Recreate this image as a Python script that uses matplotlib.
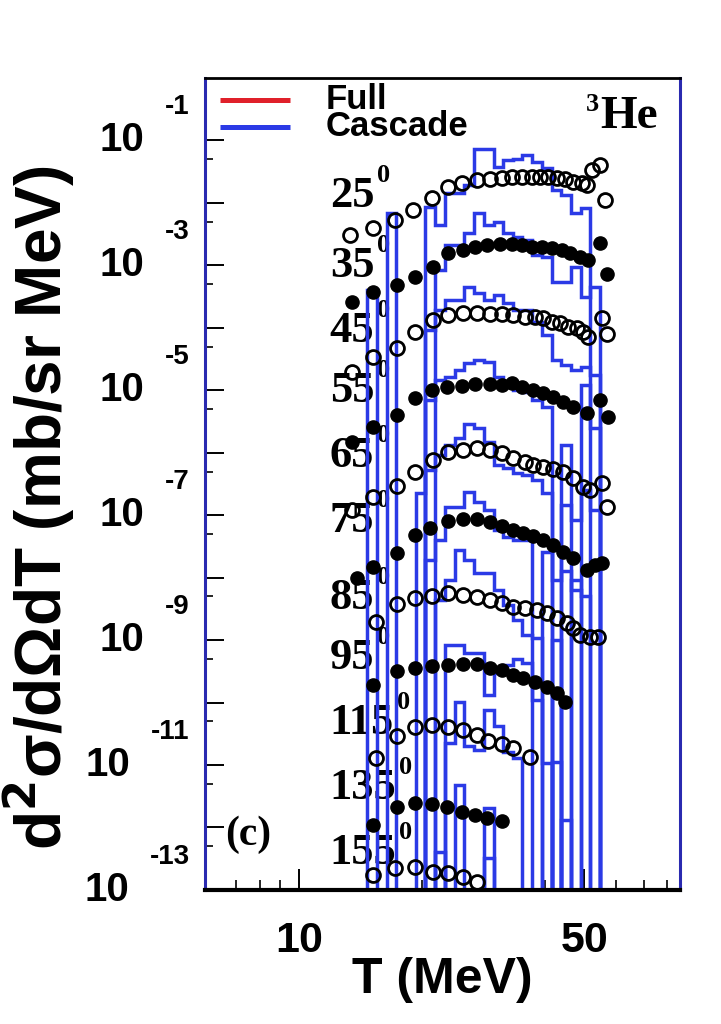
import numpy as np
import matplotlib.pyplot as plt
from matplotlib.ticker import NullFormatter

# cascade histogram bin edges, T in MeV
edges = [14.7, 15.5, 16.4, 17.3, 18.3, 19.3, 20.4, 21.6, 22.8, 24.1, 25.4, 26.9,
         28.4, 30.0, 31.6, 33.4, 35.3, 37.3, 39.4, 41.6, 43.9, 46.4, 49.0, 51.7, 54.6]

angles = ['25', '35', '45', '55', '65', '75', '85', '95', '115', '135', '155']

# data points: T (MeV) and log10 of the (scaled) cross section
t25 = [13.3, 15.2, 17.2, 19.0, 21.2, 23.2, 25.1, 27.3, 29.4, 31.5, 33.3, 35.2, 37.2, 39.0,
       40.8, 42.9, 44.9, 47.0, 49.4, 50.8, 52.3, 54.7, 56.2]
y25 = [-2.52, -2.41, -2.28, -2.12, -1.93, -1.75, -1.69, -1.64, -1.62, -1.61, -1.59, -1.59,
       -1.59, -1.59, -1.59, -1.61, -1.62, -1.66, -1.69, -1.72, -1.48, -1.40, -1.96]
t35 = [13.5, 15.2, 17.4, 19.2, 21.3, 23.2, 25.2, 27.0, 28.9, 31.1, 33.3, 35.2, 37.3, 39.4,
       41.7, 44.1, 46.2, 48.8, 51.1, 54.7, 56.9]
y35 = [-3.59, -3.43, -3.32, -3.19, -3.03, -2.81, -2.76, -2.71, -2.68, -2.66, -2.66, -2.68,
       -2.70, -2.71, -2.73, -2.76, -2.81, -2.87, -2.92, -2.65, -3.14]
t45 = [13.5, 15.2, 17.4, 19.2, 21.3, 23.2, 25.2, 27.3, 29.4, 31.5, 33.5, 35.8, 37.9, 39.6,
       41.7, 43.6, 45.6, 48.0, 49.7, 51.1, 55.3, 56.9]
y45 = [-4.70, -4.47, -4.33, -4.06, -3.88, -3.80, -3.77, -3.77, -3.78, -3.78, -3.80, -3.82,
       -3.83, -3.85, -3.90, -3.93, -3.98, -4.01, -4.07, -4.14, -3.85, -4.10]
t55 = [13.5, 15.2, 17.4, 19.2, 21.2, 23.1, 25.1, 27.0, 29.4, 31.5, 33.3, 35.2, 37.5, 39.6,
       41.9, 44.4, 46.9, 50.8, 54.7, 57.2]
y55 = [-5.83, -5.59, -5.40, -5.13, -5.00, -4.95, -4.94, -4.90, -4.90, -4.92, -4.89, -4.95,
       -5.00, -5.05, -5.11, -5.19, -5.27, -5.37, -5.16, -5.43]
t65 = [13.5, 15.2, 17.4, 19.2, 21.3, 23.2, 25.2, 27.3, 29.4, 31.5, 33.5, 35.8, 37.5, 39.6,
       41.9, 44.4, 46.9, 49.7, 51.7, 55.3, 56.9]
y65 = [-6.92, -6.71, -6.54, -6.31, -6.12, -5.99, -5.96, -5.93, -5.96, -6.01, -6.09, -6.15,
       -6.20, -6.23, -6.26, -6.31, -6.41, -6.55, -6.60, -6.49, -6.87]
t75 = [13.9, 15.2, 17.4, 19.2, 21.0, 23.2, 25.2, 27.3, 29.4, 31.5, 33.5, 35.4, 37.5, 39.6,
       41.9, 44.4, 46.9, 50.8, 53.2, 55.3]
y75 = [-8.01, -7.83, -7.61, -7.32, -7.21, -7.10, -7.06, -7.06, -7.11, -7.18, -7.24, -7.29,
       -7.34, -7.40, -7.48, -7.59, -7.69, -7.88, -7.80, -7.77]
t85 = [15.4, 17.4, 19.2, 21.2, 23.2, 25.2, 27.3, 29.4, 31.5, 33.5, 35.8, 38.3, 40.5, 42.9,
       45.4, 46.9, 48.8, 51.7, 54.1]
y85 = [-8.71, -8.42, -8.33, -8.30, -8.25, -8.28, -8.31, -8.36, -8.41, -8.47, -8.49, -8.52,
       -8.57, -8.65, -8.73, -8.81, -8.92, -8.95, -8.95]
t95 = [15.2, 17.4, 19.2, 21.2, 23.2, 25.2, 27.3, 29.4, 31.5, 33.5, 35.4, 37.9, 40.5, 42.9, 44.9]
y95 = [-9.72, -9.50, -9.45, -9.42, -9.40, -9.38, -9.38, -9.45, -9.48, -9.56, -9.61, -9.67,
       -9.75, -9.85, -9.99]
t115 = [15.4, 17.4, 19.2, 21.2, 23.2, 25.2, 27.3, 29.1, 31.5, 33.5, 36.8]
y115 = [-10.89, -10.54, -10.39, -10.36, -10.39, -10.44, -10.52, -10.62, -10.66, -10.73, -10.87]
t135 = [15.2, 17.4, 19.2, 21.2, 23.1, 25.1, 27.0, 28.9, 31.5]
y135 = [-11.96, -11.67, -11.61, -11.62, -11.67, -11.75, -11.80, -11.85, -11.90]
t155 = [15.2, 17.2, 19.2, 21.3, 23.2, 25.2, 27.3]
y155 = [-12.76, -12.65, -12.63, -12.71, -12.73, -12.79, -12.87]

# cascade histograms, log10 per bin (None = empty bin)
h25 = [None, None, -2.17, None, None, None, -2.07, -2.36, -1.85, -1.85, -1.72, -1.13,
       -1.13, -1.43, -1.32, -1.29, -1.24, -1.35, -1.45, -1.80, -1.88, -2.17, -2.09, None]
h35 = [None, None, None, None, None, None, None, -3.08, -2.68, -2.68, -2.49, -2.17,
       -2.36, -2.31, -2.49, -2.55, -2.60, -2.84, -2.87, -3.27, -3.27, -3.03, -3.51, -3.35]
h45 = [-3.40, None, None, None, None, None, -4.04, -3.72, -3.56, -3.56, -3.35, -3.45,
       -3.56, -3.48, -3.61, -3.72, -3.72, -3.91, -4.12, -4.52, -4.60, -4.68, -4.63, -4.76]
h55 = [None, None, None, None, None, None, -5.16, -4.84, -4.79, -4.68, -4.57, -4.52,
       -4.55, -4.79, -4.92, -5.00, -5.03, -5.16, -5.27, None, -5.88, None, -4.92, -5.60]
h65 = [None, None, None, None, None, -6.65, -6.28, -6.04, -5.88, -5.77, -5.54, -5.61,
       -5.83, -6.20, -6.25, -6.33, -6.36, -6.44, -6.65, None, -6.84, -7.08, -6.60, -6.92]
h75 = [None, None, None, None, None, None, -7.72, -7.40, -6.87, -6.87, -6.63, -6.79,
       -6.92, -7.24, -7.35, -7.40, -7.40, None, -7.59, -8.04, -7.90, -8.20, -8.30, None]
h85 = [None, None, None, None, None, None, None, -8.36, -8.04, -7.56, -7.72, -7.93,
       -7.93, -8.20, -8.44, -8.68, -8.92, -8.97, None, -9.00, None, -8.04, None, None]
h95 = [None, None, None, None, None, None, None, None, -9.08, -9.08, -9.21, -9.21,
       -9.88, -9.53, -9.40, -9.30, -9.37, -9.96, -10.97, None, None, None, None, None]
h115 = [None, None, None, None, None, None, None, None, -10.65, -9.99, -10.70, -10.76,
        -10.12, -10.38, -10.79, -10.89, None, None, None, -10.95, None, None, None, None]
h135 = [None, None, None, None, None, None, None, None, None, -11.32, None, None,
        -11.69, None, None, None, None, None, None, None, -11.88, None, None, None]
h155 = [None, None, None, None, None, None, None, -12.39, None, None, None, None,
        -12.49, None, None, None, None, None, None, None, None, None, None, None]

# where the angle tags sit (log10 of baseline)
tag_lg = [-2.07, -3.19, -4.23, -5.19, -6.23, -7.27, -8.50, -9.46, -10.50, -11.54, -12.58]

T = [t25, t35, t45, t55, t65, t75, t85, t95, t115, t135, t155]
Y = [y25, y35, y45, y55, y65, y75, y85, y95, y115, y135, y155]
H = [h25, h35, h45, h55, h65, h75, h85, h95, h115, h135, h155]

blue = '#2b3ae6'
red = '#e0202a'
sans = 'Liberation Sans'
serif = 'Liberation Serif'

fig = plt.figure(figsize=(7.21, 10.24), dpi=100)
ax = fig.add_axes([0.2843, 0.1309, 0.6588, 0.7930])
ax.set_xscale('log')
ax.set_yscale('log')

floor = 1e-30
for i in range(len(angles)):
    hv = np.array([floor if v is None else 10.0 ** v for v in H[i]])
    ax.stairs(hv, edges, baseline=floor, color=blue, lw=2.5, zorder=2)
    yv = 10.0 ** np.array(Y[i])
    if i % 2 == 1:
        ax.plot(T[i], yv, 'o', color='black', ms=9.5, zorder=3)
    else:
        ax.plot(T[i], yv, 'o', mfc='none', mec='black', mew=2.0, ms=10, zorder=3)
    tx = ax.text(11.9, 10.0 ** tag_lg[i], angles[i], family=serif, fontweight='bold',
                 fontsize=32, va='baseline', ha='left', zorder=1)
    ax.annotate('0', xy=(1, 1), xycoords=tx, xytext=(2, -8), textcoords='offset points',
                family=serif, fontweight='bold', fontsize=19, va='bottom', ha='left', zorder=1)

ax.set_xlim(5.88, 85.9)
ax.set_ylim(1e-13, 1.0)

# axes frame, ROOT like
for s in ['left', 'right']:
    ax.spines[s].set_color('#2a2ab0')
    ax.spines[s].set_linewidth(2.2)
ax.spines['top'].set_linewidth(2.0)
ax.spines['bottom'].set_linewidth(3.0)

ax.set_yticks([10.0 ** k for k in range(-13, 0)])
ax.set_yticks([5 * 10.0 ** k for k in range(-13, -1)], minor=True)
ax.yaxis.set_minor_formatter(NullFormatter())
ax.tick_params(axis='y', which='major', direction='in', length=14, width=1.4, labelleft=False)
ax.tick_params(axis='y', which='minor', direction='in', length=6, width=1.2)

ax.set_xticks([10, 50])
ax.set_xticklabels(['10', '50'])
ax.set_xticks([7, 8, 9, 20, 30, 40, 60, 70, 80], minor=True)
ax.xaxis.set_minor_formatter(NullFormatter())
ax.tick_params(axis='x', which='major', direction='in', length=15, width=1.4, pad=22,
               labelsize=31)
ax.tick_params(axis='x', which='minor', direction='in', length=7, width=1.2)
for lab in ax.get_xticklabels():
    lab.set_fontweight('bold')
    lab.set_family(sans)

# y tick labels as 10 with raised exponent
for k in range(-1, -14, -2):
    ex = ax.annotate(str(k), xy=(-0.032, 10.0 ** k), xycoords=ax.get_yaxis_transform(),
                     xytext=(0, 24), textcoords='offset points', ha='right', va='center',
                     fontsize=20, fontweight='bold', family=sans, annotation_clip=False)
    ax.annotate('10', xy=(0, 0.5), xycoords=ex, xytext=(-15, -24), textcoords='offset points',
                ha='right', va='center', fontsize=29, fontweight='bold', family=sans,
                annotation_clip=False)

ax.set_xlabel('T (MeV)', fontsize=36, fontweight='bold', family=sans)
ax.xaxis.set_label_coords(0.5, -0.082)
ax.set_ylabel('d$^{\\mathbf{2}}$σ/dΩdT (mb/sr MeV)', fontsize=46, fontweight='bold', family=sans)
ax.yaxis.set_label_coords(-0.27, 0.47)

# legend
ax.plot([0.032, 0.179], [0.973, 0.973], transform=ax.transAxes, color=red, lw=3.6,
        solid_capstyle='butt')
ax.plot([0.032, 0.179], [0.940, 0.940], transform=ax.transAxes, color=blue, lw=3.6,
        solid_capstyle='butt')
ax.text(0.253, 0.9565, 'Full\nCascade', transform=ax.transAxes, fontsize=25,
        fontweight='bold', family=sans, va='center', ha='left', linespacing=0.78)

he = ax.text(0.832, 0.938, 'He', transform=ax.transAxes, fontsize=34, fontweight='bold',
             family=serif, va='baseline', ha='left')
ax.annotate('3', xy=(0, 1), xycoords=he, xytext=(-1, 2), textcoords='offset points',
            fontsize=19, fontweight='bold', family=serif, va='top', ha='right')
ax.text(0.042, 0.068, '(c)', transform=ax.transAxes, fontsize=30, fontweight='bold',
        family=serif, va='center', ha='left')

fig.savefig('out.png', dpi=100)
